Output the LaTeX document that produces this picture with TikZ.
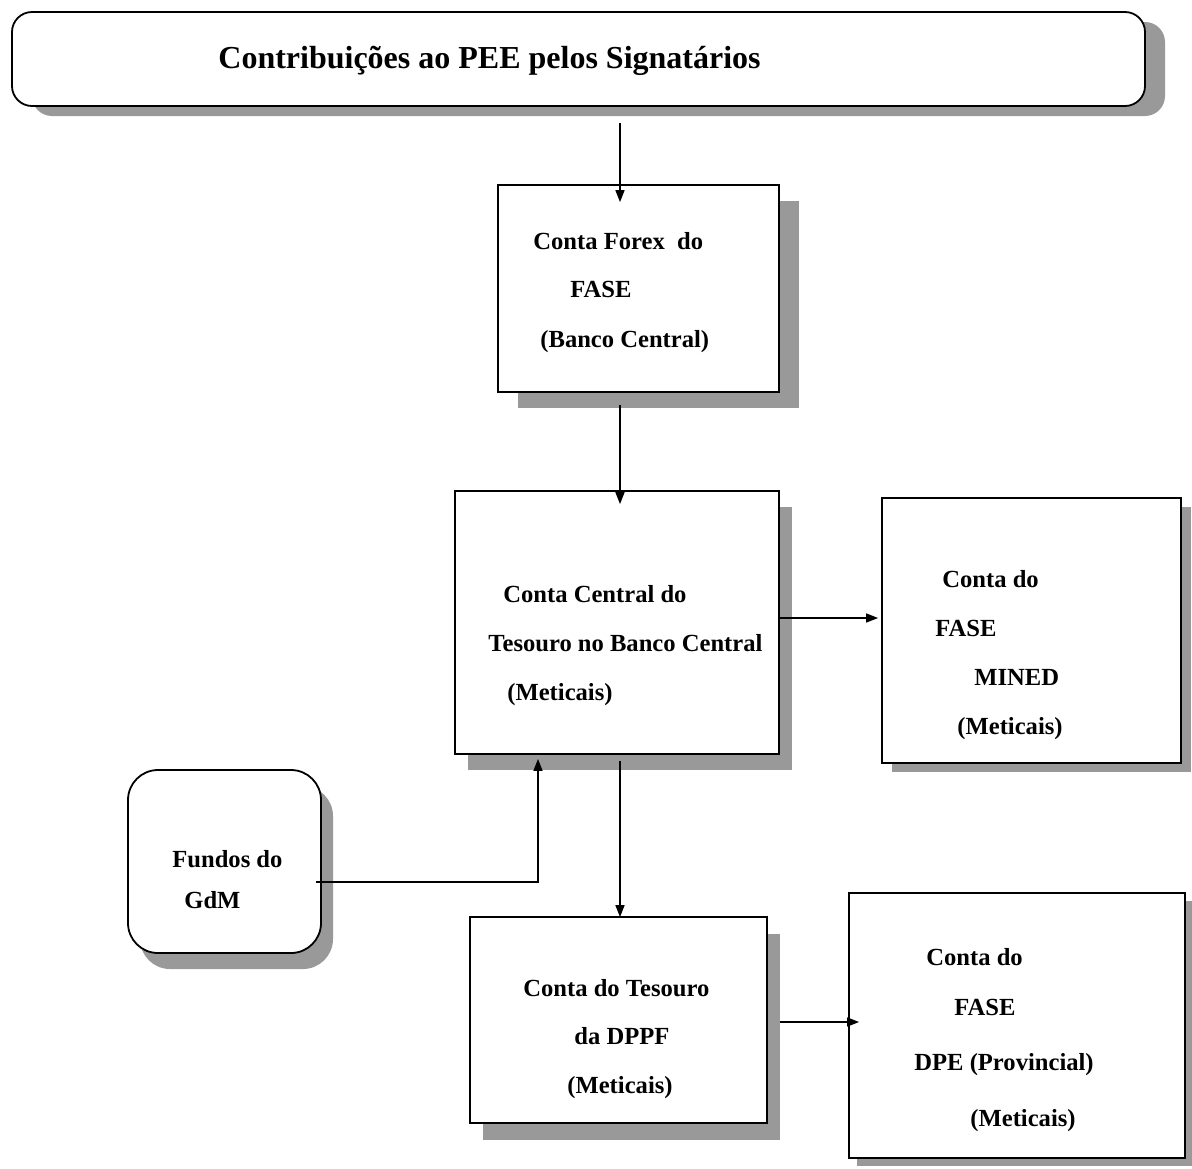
\documentclass[tikz,border=0pt]{standalone}
\usepackage{fontspec}
\setmainfont{Liberation Serif}
\usepackage{tikz}
\usetikzlibrary{
    positioning,
    arrows.meta,
    calc,
    shadows
}
\tikzset{
    % box style (empty frame, text is placed line by line)
    block/.style={
        rectangle,
        draw=black,
        line width=0.9pt,
        fill=white,
        inner sep=0pt
    },
    % flat grey shadow, offset per box
    shad/.style 2 args={
        drop shadow={shadow xshift=#1, shadow yshift=#2, fill=black!40, opacity=1}
    },
    % text lines
    lbl/.style={
        anchor=base west,
        inner sep=0pt,
        font=\bfseries\fontsize{12.3}{14}\selectfont
    },
    % arrow style
    arrow/.style={
        -{Triangle[length=6pt, width=4.5pt]},
        draw=black,
        line width=0.75pt
    }
}

\begin{document}
\begin{tikzpicture}[x=0.5pt, y=-0.5pt]
    \useasboundingbox (0,0) rectangle (1192,1168);

    % Boxes
    \node[block, rounded corners=10pt, shad={10pt}{-5pt}, minimum width=566.5pt, minimum height=47pt] (title) at (578.5,59) {};
    \node[block, shad={10pt}{-8pt}, minimum width=140.5pt, minimum height=103.5pt] (forex) at (638.5,288.5) {};
    \node[block, shad={6.5pt}{-8pt}, minimum width=162pt, minimum height=131.5pt] (central) at (617,622.5) {};
    \node[block, shad={5pt}{-4.5pt}, minimum width=149.5pt, minimum height=132.5pt] (mined) at (1031.5,630.5) {};
    \node[block, rounded corners=15pt, shad={6pt}{-8pt}, minimum width=96.5pt, minimum height=91.5pt] (gdm) at (224.5,861.5) {};
    \node[block, shad={6.5pt}{-8.5pt}, minimum width=148.5pt, minimum height=103pt] (dppf) at (618.5,1020) {};
    \node[block, shad={4pt}{-4pt}, minimum width=168pt, minimum height=132.5pt] (dpe) at (1017,1025.5) {};

    % Text
    \node[lbl, font=\bfseries\fontsize{16}{18}\selectfont] (t1) at (218,68) {Contribuições ao PEE pelos Signatários};

    \node[lbl] (fx1) at (533,249) {Conta Forex~ do};
    \node[lbl] (fx2) at (570,297) {FASE};
    \node[lbl] (fx3) at (540,347) {(Banco Central)};

    \node[lbl] (ct1) at (503,602) {Conta Central do};
    \node[lbl] (ct2) at (488,651) {Tesouro no Banco Central};
    \node[lbl] (ct3) at (507,700) {(Meticais)};

    \node[lbl] (mn1) at (942,587) {Conta do};
    \node[lbl] (mn2) at (935,636) {FASE};
    \node[lbl] (mn3) at (974,685) {MINED};
    \node[lbl] (mn4) at (957,734) {(Meticais)};

    \node[lbl] (gd1) at (172,867) {Fundos do};
    \node[lbl] (gd2) at (184,908) {GdM};

    \node[lbl] (dp1) at (523,996) {Conta do Tesouro};
    \node[lbl] (dp2) at (574,1044) {da DPPF};
    \node[lbl] (dp3) at (567,1093) {(Meticais)};

    \node[lbl] (pr1) at (926,965) {Conta do};
    \node[lbl] (pr2) at (954,1015) {FASE};
    \node[lbl] (pr3) at (914,1070) {DPE (Provincial)};
    \node[lbl] (pr4) at (970,1126) {(Meticais)};

    % Arrows
    \draw[arrow] ($(title.south)+(41.5,16)$) -- ($(forex.north)+(-18.5,18)$);
    \draw[arrow] ($(forex.south)+(-18.5,12)$) -- ($(central.north)+(3,14)$);
    \draw[arrow] ($(central.east)+(0,-4.5)$) -- ($(mined.west)+(-3,-12.5)$);
    \draw[arrow] ($(central.south)+(3,6)$) -- ($(dppf.north)+(1.5,1)$);
    \draw[arrow] ($(gdm.east)+(-6,20.5)$) -| ($(central.south)+(-79,4)$);
    \draw[arrow] ($(dppf.east)+(12,2)$) -- ($(dpe.west)+(11,-3.5)$);

\end{tikzpicture}
\end{document}
